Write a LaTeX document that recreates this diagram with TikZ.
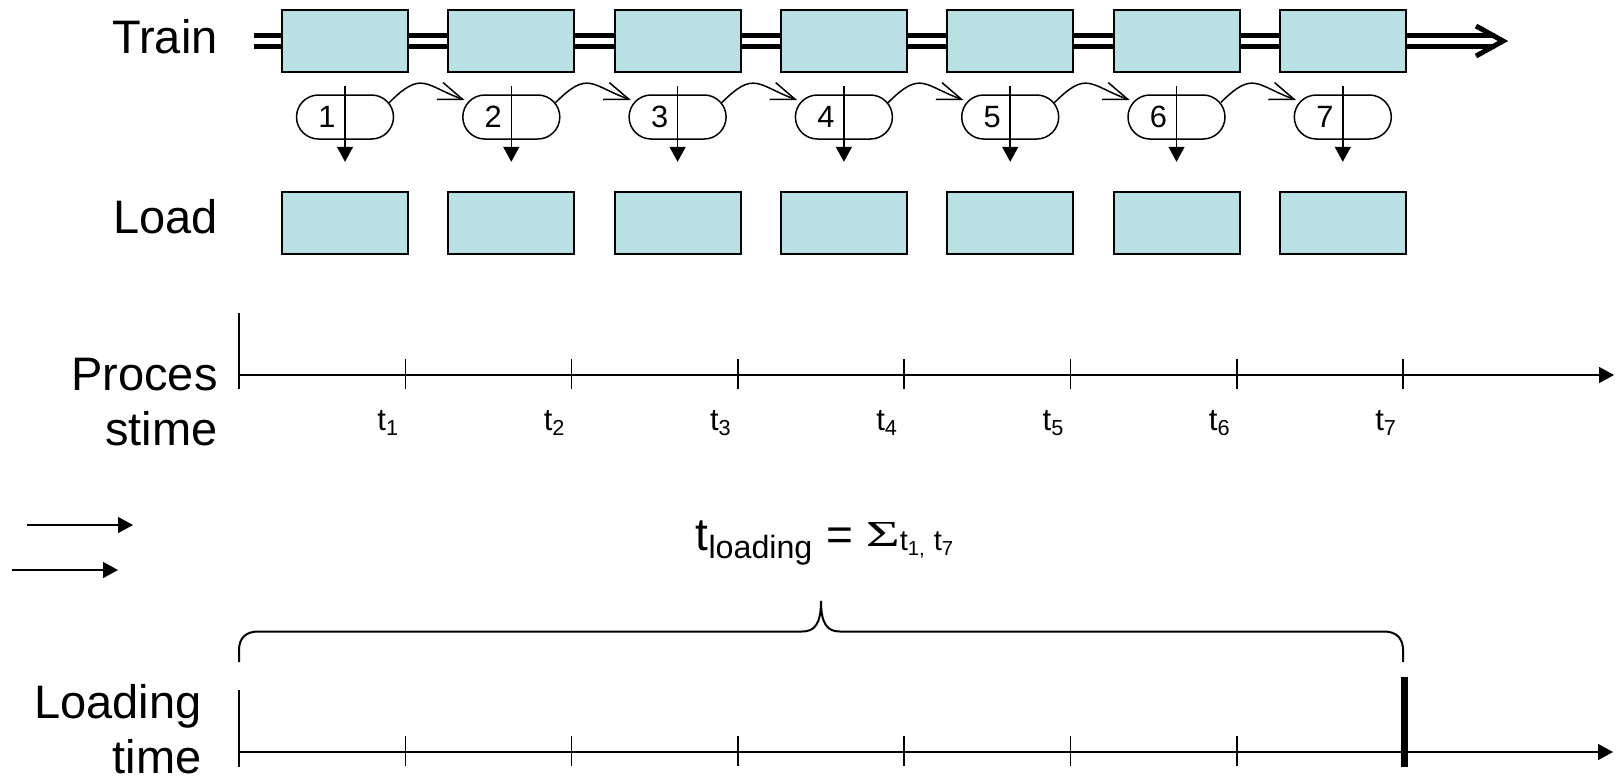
\documentclass[tikz,border=0pt]{standalone}
\usepackage{fontspec}
\setmainfont{Liberation Sans}
\newfontfamily\sigmafont{Liberation Serif}
\usetikzlibrary{arrows.meta,shapes.misc,calc}
\definecolor{wagonfill}{RGB}{185,224,227}
\tikzset{
    wagon/.style = {draw, line width=1pt, fill=wagonfill, minimum width=63pt, minimum height=31pt, inner sep=0pt},
    stage/.style = {draw, rounded rectangle, line width=0.75pt, minimum width=48.5pt, minimum height=22pt, inner sep=0pt, font=\fontsize{15.4}{17}\selectfont},
    lbl/.style = {inner sep=0pt, font=\fontsize{23.5}{27}\selectfont},
    tlbl/.style = {inner sep=0pt, font=\fontsize{15.5}{17}\selectfont},
    rail/.style = {line width=2.5pt, double=white, double distance=3.35pt},
    drop/.style = {line width=0.75pt, -{Triangle[length=7.5pt,width=8pt]}},
    hop/.style = {line width=0.75pt, shorten >=2pt, -{Straight Barb[length=12pt,width=9pt]}},
    axis/.style = {line width=0.75pt, -{Triangle[length=7.5pt,width=8pt]}},
    tick/.style = {line width=0.75pt},
}

\begin{document}
\begin{tikzpicture}[x=0.5pt, y=0.5pt]
    \useasboundingbox (0,0) rectangle (1616,-778);

    % track
    \coordinate (railstart) at (254,-41);
    \coordinate (railend) at (1495,-41);
    \draw[rail] (railstart) -- (railend);
    \draw[line width=2.5pt, miter limit=10] (1476,-26) -- (1503,-41) -- (1476,-56);

    % wagons, stages and loads
    \foreach \i in {1,...,7}
    {
        \node[wagon] (car\i) at ({345+166.3*(\i-1)},-41.3) {};
        \node[stage] (stage\i) at ({345+166.3*(\i-1)},-117) {\i\rule{18pt}{0pt}};
        \node[wagon] (load\i) at ({345+166.3*(\i-1)},-222.8) {};
        \draw[drop] ([yshift=-6.5pt]car\i.south) -- ([yshift=14.5pt]load\i.north);
    }
    \foreach \i [count=\j from 2] in {1,...,6}
        \draw[hop] (stage\i.18) to[out=45, in=160, looseness=1.5] (stage\j.160);

    \node[lbl, anchor=base east] (trainlbl) at (218,-53) {Train};
    \node[lbl, anchor=base east] (loadlbl) at (218,-233) {Load};

    % process time
    \coordinate (porig) at (239,-375);
    \coordinate (pend) at (1614,-375);
    \draw[axis] (porig) -- (pend);
    \draw[tick] (239,-313) -- (239,-389);
    \foreach \i in {1,...,7}
    {
        \coordinate (ptick\i) at ({239+166.3*\i},-375);
        \draw[tick] ($(ptick\i)+(0,16)$) -- ($(ptick\i)+(0,-14)$);
        \node[tlbl, anchor=base] (tp\i) at ($(ptick\i)+(-17,-55)$) {t\textsubscript{\i}};
    }
    \node[lbl, anchor=base east] (proclbl) at (218,-390) {Proces};
    \node[lbl, anchor=base east] (stimelbl) at (218,-445) {stime};

    % free arrows
    \coordinate (fa1) at (27,-525);
    \coordinate (fb1) at (133,-525);
    \coordinate (fa2) at (12,-570);
    \coordinate (fb2) at (118,-570);
    \draw[axis] (fa1) -- (fb1);
    \draw[axis] (fa2) -- (fb2);

    % total
    \node[lbl, font=\fontsize{23}{27}\selectfont] (tsum) at (825,-543)
        {t\textsubscript{loading} = {\fontsize{14.5}{16}\selectfont\raisebox{2pt}{\resizebox{17pt}{12pt}{\sigmafont Σ}}t\textsubscript{1,} t\textsubscript{7}}};
    \coordinate (bl) at (239,-662);
    \coordinate (br) at (1403,-662);
    \coordinate (btip) at (821,-601);
    \draw[line width=1pt] (bl) -- (239,-650)
        .. controls (239,-638) and (246,-631.5) .. (258,-631.5) -- (802,-631.5)
        .. controls (814,-631.5) and (821,-625) .. (btip)
        .. controls (821,-625) and (828,-631.5) .. (840,-631.5) -- (1384,-631.5)
        .. controls (1396,-631.5) and (1403,-638) .. (1403,-650) -- (br);

    % loading time
    \coordinate (lorig) at (239,-752);
    \coordinate (lend) at (1613,-752);
    \draw[axis] (lorig) -- (lend);
    \draw[tick] (239,-690) -- (239,-767);
    \foreach \i in {1,...,6}
    {
        \coordinate (ltick\i) at ({239+166.3*\i},-752);
        \draw[tick] ($(ltick\i)+(0,16)$) -- ($(ltick\i)+(0,-14)$);
    }
    \draw[line width=3.5pt] (1404,-677) -- (1404,-767);
    \node[lbl, anchor=base east] (loadinglbl) at (202,-718) {Loading};
    \node[lbl, anchor=base east] (timelbl) at (202,-773) {time};
\end{tikzpicture}
\end{document}
